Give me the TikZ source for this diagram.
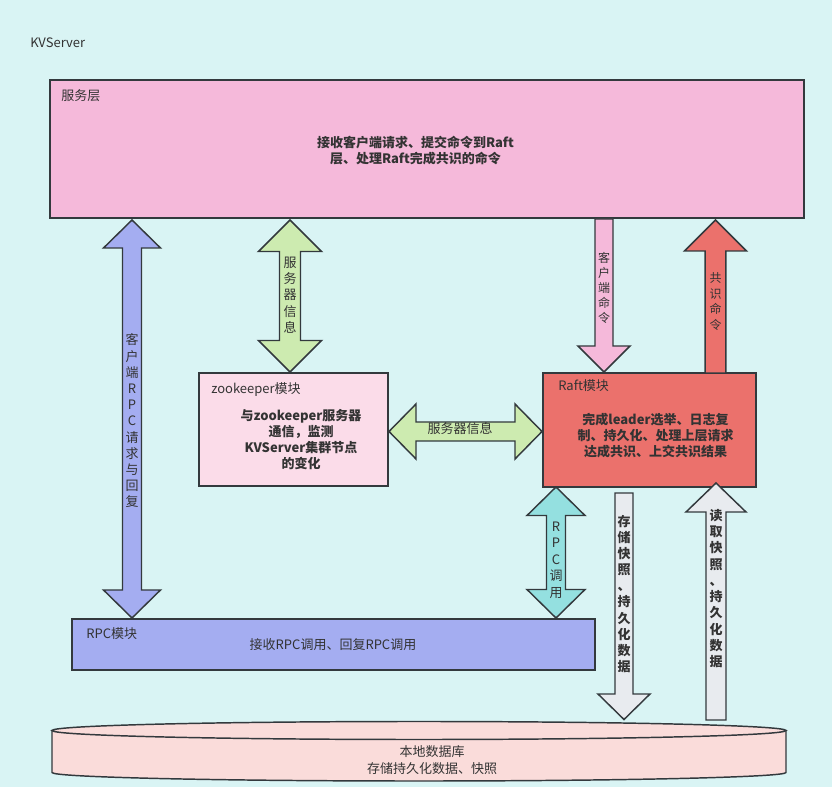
\documentclass[tikz,border=0pt]{standalone}
\usepackage{fontspec}
\setmainfont{Noto Sans CJK SC}

\definecolor{bg}{HTML}{D9F4F4}
\definecolor{edge}{HTML}{33393D}
\definecolor{ink}{HTML}{333333}
\definecolor{svcfill}{HTML}{F5B9DA}
\definecolor{zkfill}{HTML}{FBDCE9}
\definecolor{raftfill}{HTML}{EB716C}
\definecolor{rpcfill}{HTML}{A4ADF1}
\definecolor{greenfill}{HTML}{CDEBB0}
\definecolor{cyanfill}{HTML}{94E0E0}
\definecolor{grayfill}{HTML}{E8EBEF}
\definecolor{dbfill}{HTML}{FADCDA}

% block arrows; coordinates in pixels, y pointing down
% vertical double arrow: style, cx, ytop, ybottom, half shaft, half head, head length
\newcommand\vtwin[7]{%
  \draw[#1] (#2,#3) -- ({#2+#6},{#3+#7}) -- ({#2+#5},{#3+#7}) -- ({#2+#5},{#4-#7})
    -- ({#2+#6},{#4-#7}) -- (#2,#4) -- ({#2-#6},{#4-#7}) -- ({#2-#5},{#4-#7})
    -- ({#2-#5},{#3+#7}) -- ({#2-#6},{#3+#7}) -- cycle;}
% horizontal double arrow: style, cy, xleft, xright, half shaft, half head, head length
\newcommand\htwin[7]{%
  \draw[#1] (#3,#2) -- ({#3+#7},{#2-#6}) -- ({#3+#7},{#2-#5}) -- ({#4-#7},{#2-#5})
    -- ({#4-#7},{#2-#6}) -- (#4,#2) -- ({#4-#7},{#2+#6}) -- ({#4-#7},{#2+#5})
    -- ({#3+#7},{#2+#5}) -- ({#3+#7},{#2+#6}) -- cycle;}
% downward arrow: style, cx, ytail, ytip, half shaft, half head, head length
\newcommand\vdown[7]{%
  \draw[#1] ({#2-#5},#3) -- ({#2+#5},#3) -- ({#2+#5},{#4-#7}) -- ({#2+#6},{#4-#7})
    -- (#2,#4) -- ({#2-#6},{#4-#7}) -- ({#2-#5},{#4-#7}) -- cycle;}
% upward arrow: style, cx, ytip, ytail, half shaft, half head, head length
\newcommand\vup[7]{%
  \draw[#1] ({#2-#5},#4) -- ({#2+#5},#4) -- ({#2+#5},{#3+#7}) -- ({#2+#6},{#3+#7})
    -- (#2,#3) -- ({#2-#6},{#3+#7}) -- ({#2-#5},{#3+#7}) -- cycle;}

\tikzset{
  outline/.style={draw=edge, line width=1.1pt, line join=miter},
  box/.style={outline, rectangle, inner sep=0pt, outer sep=0pt, anchor=north west},
  lbl/.style={text=ink, inner sep=0pt, font=\fontsize{9.75}{12}\selectfont},
  title/.style={lbl, anchor=west},
  body/.style={lbl, align=center, font=\fontsize{9.75}{12}\selectfont\bfseries},
  vlbl/.style={lbl, align=center},
}

\begin{document}
\begin{tikzpicture}[x=0.75pt,y=-0.75pt]
\fill[bg] (0,0) rectangle (832,787);
\useasboundingbox (0,0) rectangle (832,787);

\node[title] (kv) at (30,43) {KVServer};

% service layer
\node[box, fill=svcfill, minimum width=754*0.75pt, minimum height=138*0.75pt] (svc) at (50,80) {};
\node[title] (svcT) at (61,96) {服务层};
\node[body] (svcB) at (415.5,150.5) {接收客户端请求、提交命令到Raft\\层、处理Raft完成共识的命令};

% zookeeper module
\node[box, fill=zkfill, minimum width=189*0.75pt, minimum height=113*0.75pt] (zk) at (199,373) {};
\node[title] (zkT) at (211,390) {zookeeper模块};
\node[body] (zkB) at (301,439.5) {与zookeeper服务器\\通信，监测\\KVServer集群节点\\的变化};

% raft module
\node[box, fill=raftfill, minimum width=213*0.75pt, minimum height=114*0.75pt] (raft) at (543,373) {};
\node[title] (raftT) at (558,386) {Raft模块};
\node[body] (raftB) at (655.5,435.5) {完成leader选举、日志复\\制、持久化、处理上层请求\\达成共识、上交共识结果};

% rpc module
\node[box, fill=rpcfill, minimum width=523*0.75pt, minimum height=51*0.75pt] (rpc) at (72,619) {};
\node[title] (rpcT) at (86,634) {RPC模块};
\node[lbl] (rpcB) at (333,645) {接收RPC调用、回复RPC调用};

% local database cylinder
\draw[outline, fill=dbfill] (52,730.5) -- (52,772.5)
  .. controls (52,777.2) and (216.3,781) .. (419,781)
  .. controls (621.7,781) and (786,777.2) .. (786,772.5) -- (786,730.5) -- cycle;
\draw[outline, fill=dbfill] (52,730.5)
  .. controls (52,725.5) and (216.3,721.5) .. (419,721.5)
  .. controls (621.7,721.5) and (786,725.5) .. (786,730.5)
  .. controls (786,735.5) and (621.7,739.5) .. (419,739.5)
  .. controls (216.3,739.5) and (52,735.5) .. (52,730.5) -- cycle;
\node[lbl, align=center, font=\fontsize{9.75}{12.4}\selectfont] (db) at (432,760) {本地数据库\\存储持久化数据、快照};

% block arrows
\vtwin{outline, fill=rpcfill}{132}{220}{618}{9.5}{28.5}{28}
\vtwin{outline, fill=greenfill}{290}{220}{372}{10.5}{31.5}{31.5}
\vtwin{outline, fill=cyanfill}{556}{487}{618}{9.5}{29}{28.5}
\htwin{outline, fill=greenfill}{431.5}{389}{542}{9.5}{27.5}{27}
\vdown{outline, fill=svcfill}{604}{219}{372}{9}{26}{26}
\vup{outline, fill=raftfill}{715.5}{220}{373}{10.3}{31}{31}
\vdown{outline, fill=grayfill}{624}{493}{719.5}{9}{26}{25.5}
\vup{outline, fill=grayfill}{716}{483}{720}{10}{30}{29}

% arrow labels
\node[vlbl, font=\fontsize{9.75}{12.15}\selectfont] (l1) at (132,421) {客\\户\\端\\R\\P\\C\\请\\求\\与\\回\\复};
\node[vlbl, font=\fontsize{9.75}{12.2}\selectfont] (l2) at (290,295) {服\\务\\器\\信\\息};
\node[vlbl, font=\fontsize{9}{11.25}\selectfont] (l3) at (604,288) {客\\户\\端\\命\\令};
\node[vlbl, font=\fontsize{9}{11.8}\selectfont] (l4) at (715.5,301.5) {共\\识\\命\\令};
\node[lbl] (l5) at (460,429) {服务器信息};
\node[vlbl, font=\fontsize{9.75}{12.4}\selectfont] (l6) at (556,560) {R\\P\\C\\调\\用};
\node[vlbl, font=\fontsize{9.75}{12.1}\selectfont\bfseries] (l7) at (624,594) {存\\储\\快\\照\\、\\持\\久\\化\\数\\据};
\node[vlbl, font=\fontsize{9.75}{12.2}\selectfont\bfseries] (l8) at (716,588.5) {读\\取\\快\\照\\、\\持\\久\\化\\数\\据};
\end{tikzpicture}
\end{document}
